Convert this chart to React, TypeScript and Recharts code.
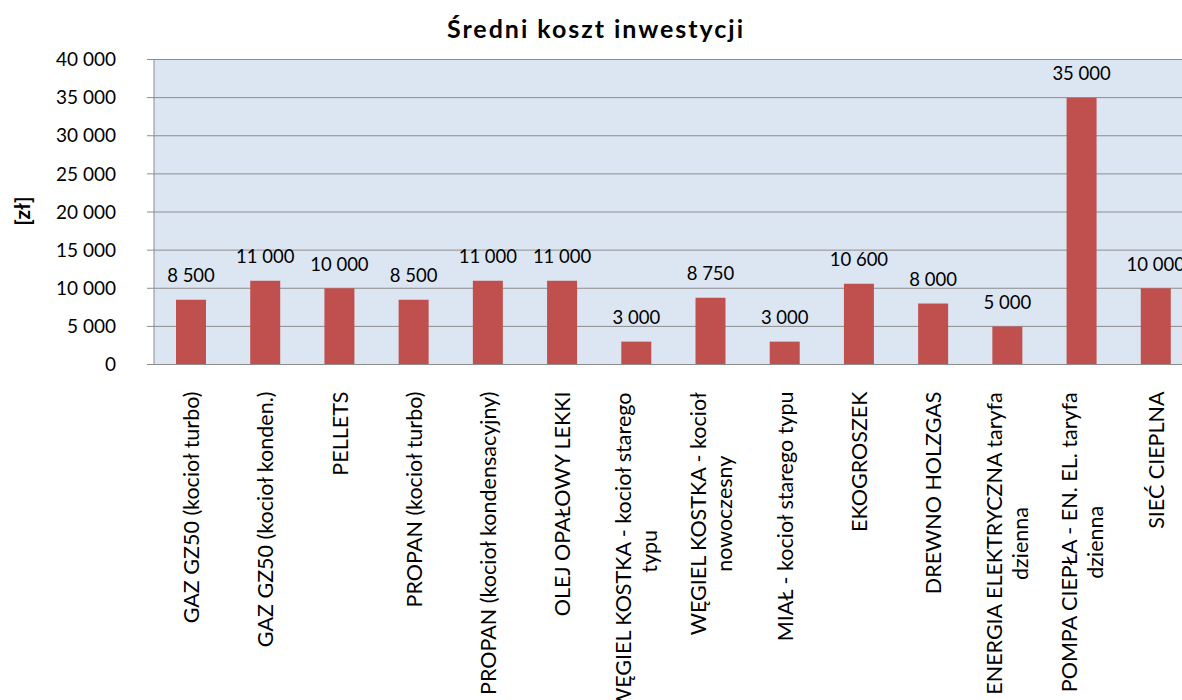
import React from 'react';
import { BarChart, Bar, XAxis, YAxis, CartesianGrid, LabelList, Label } from 'recharts';

const categories: string[] = [
  'GAZ GZ50 (kocioł turbo)',
  'GAZ GZ50 (kocioł konden.)',
  'PELLETS',
  'PROPAN (kocioł turbo)',
  'PROPAN (kocioł kondensacyjny)',
  'OLEJ OPAŁOWY LEKKI',
  'WĘGIEL KOSTKA - kocioł starego\ntypu',
  'WĘGIEL KOSTKA - kocioł\nnowoczesny',
  'MIAŁ - kocioł starego typu',
  'EKOGROSZEK',
  'DREWNO HOLZGAS',
  'ENERGIA ELEKTRYCZNA taryfa\ndzienna',
  'POMPA CIEPŁA - EN. EL. taryfa\ndzienna',
  'SIEĆ CIEPLNA',
];

const costs: number[] = [8500, 11000, 10000, 8500, 11000, 11000, 3000, 8750, 3000, 10600, 8000, 5000, 35000, 10000];

const yTicks: number[] = [0, 5000, 10000, 15000, 20000, 25000, 30000, 35000, 40000];
const boundaryTicks: number[] = [0, 1, 2, 3, 4, 5, 6, 7, 8, 9, 10, 11, 12, 13, 14];

const title = 'Średni koszt inwestycji';
const yLabel = '[zł]';

const data = categories.map((name, i) => ({ name, value: costs[i] }));

const FONT = 'Lato, "Open Sans", sans-serif';
const TICK_FS = 19;
const CAT_FS = 21.5;
const LINE_H = 26;
const GRID = '#8c8c8c';

const fmt = (v: number | string) => String(v).replace(/\B(?=(\d{3})+(?!\d))/g, ' ');

let ctx: CanvasRenderingContext2D | null = null;
const measure = (s: string) => {
  if (!ctx) {
    ctx = document.createElement('canvas').getContext('2d');
  }
  if (!ctx) return s.length * CAT_FS * 0.5;
  ctx.font = `${CAT_FS}px Lato`;
  return ctx.measureText(s).width;
};

const CatTick = (props: any) => {
  const { x, y, payload } = props;
  const lines = String(payload.value).split('\n');
  const n = lines.length;
  if (n === 1) {
    return (
      <text
        x={x}
        y={y}
        transform={`rotate(-90 ${x} ${y})`}
        textAnchor="end"
        dominantBaseline="central"
        fontFamily={FONT}
        fontSize={CAT_FS}
        fill="#000"
      >
        {lines[0]}
      </text>
    );
  }
  const maxW = Math.max(...lines.map(measure));
  return (
    <g>
      {lines.map((l, i) => {
        const cx = x + (i - (n - 1) / 2) * LINE_H;
        const cy = y + maxW / 2;
        return (
          <text
            key={i}
            x={cx}
            y={cy}
            transform={`rotate(-90 ${cx} ${cy})`}
            textAnchor="middle"
            dominantBaseline="central"
            fontFamily={FONT}
            fontSize={CAT_FS}
            fill="#000"
          >
            {l}
          </text>
        );
      })}
    </g>
  );
};

const ValueLabel = (props: any) => {
  const { x, y, width, value } = props;
  return (
    <text
      x={Number(x) + Number(width) / 2}
      y={Number(y) - 17.5}
      textAnchor="middle"
      fontFamily={FONT}
      fontSize={18.5}
      fill="#000"
    >
      {fmt(value)}
    </text>
  );
};

const Overlay = () => (
  <g>
    <text
      x={595}
      y={38}
      textAnchor="middle"
      fontFamily={FONT}
      fontWeight="bold"
      fontSize={25}
      textLength={296}
      lengthAdjust="spacing"
      fill="#000"
    >
      {title}
    </text>
    <text
      x={21}
      y={211}
      transform="rotate(-90 21 211)"
      textAnchor="middle"
      dominantBaseline="central"
      fontFamily={FONT}
      fontWeight="bold"
      fontSize={21}
      fill="#000"
    >
      {yLabel}
    </text>
  </g>
);

export default function App() {
  return (
    <div style={{ position: 'absolute', left: 0, top: 0, width: 1182, height: 700, overflow: 'hidden', background: '#fff' }}>
      <BarChart
        width={1200}
        height={700}
        data={data}
        margin={{ top: 59.5, right: 7, bottom: 0, left: 0 }}
        barSize={30}
      >
        <CartesianGrid horizontal vertical={false} stroke={GRID} fill="#dce6f2" fillOpacity={1} />
        <XAxis
          xAxisId="b"
          type="number"
          domain={[0, 14]}
          ticks={boundaryTicks}
          height={0}
          axisLine={false}
          tickLine={{ stroke: GRID }}
          tickSize={7}
          tick={() => <g />}
          allowDataOverflow
        />
        <XAxis
          dataKey="name"
          interval={0}
          height={335.5}
          tickLine={false}
          axisLine={{ stroke: GRID }}
          tickSize={7}
          tickMargin={20}
          tick={<CatTick />}
        />
        <YAxis
          width={154}
          domain={[0, 40000]}
          ticks={yTicks}
          tickFormatter={fmt}
          tickSize={7}
          tickMargin={31}
          axisLine={{ stroke: GRID }}
          tickLine={{ stroke: GRID }}
          tick={{ fontFamily: FONT, fontSize: TICK_FS, fill: '#000' }}
          interval={0}
        >
          <Label content={() => <Overlay />} />
        </YAxis>
        <Bar dataKey="value" fill="#c0504d" isAnimationActive={false}>
          <LabelList dataKey="value" content={<ValueLabel />} />
        </Bar>
      </BarChart>
    </div>
  );
}
